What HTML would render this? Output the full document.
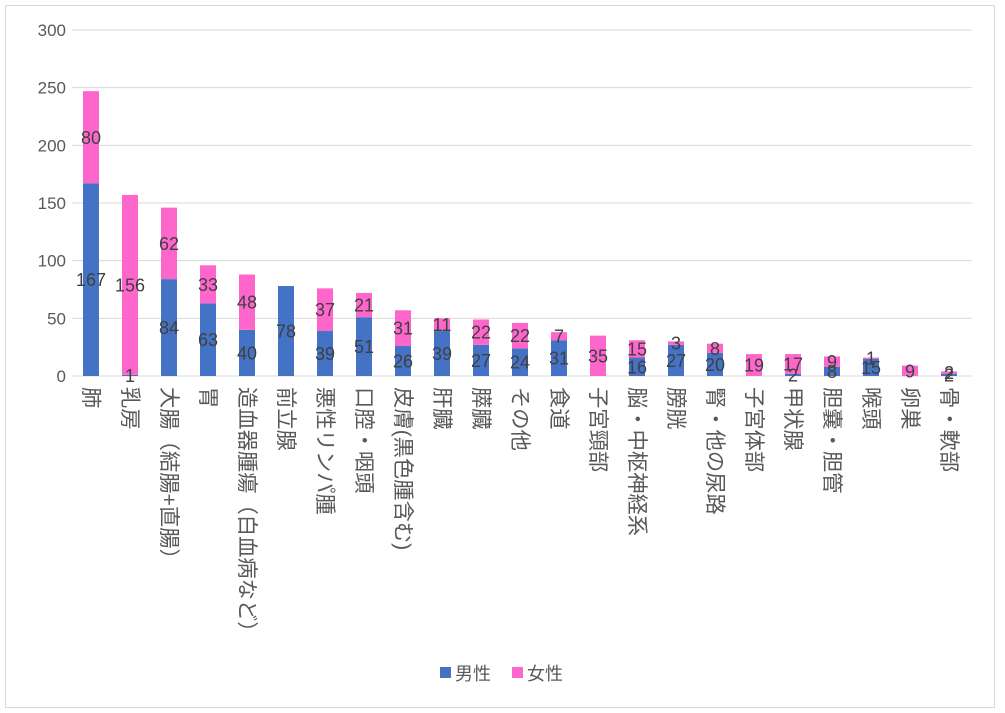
<!DOCTYPE html><html><head><meta charset="utf-8"><style>body{margin:0;background:#fff}svg{display:block;font-family:"Liberation Sans","Noto Sans CJK JP",sans-serif}</style></head><body>
<svg width="1005" height="713" xmlns="http://www.w3.org/2000/svg">
<rect x="5.5" y="5.5" width="989" height="702" fill="#fff" stroke="#d9d9d9"/>
<g id="g"></g>
</svg>
<script>
const d=[["肺",167,80],["乳房",1,156],["大腸（結腸+直腸）",84,62],["胃",63,33],["造血器腫瘍（白血病など）",40,48],["前立腺",78,0],["悪性リンパ腫",39,37],["口腔・咽頭",51,21],["皮膚(黒色腫含む)",26,31],["肝臓",39,11],["膵臓",27,22],["その他",24,22],["食道",31,7],["子宮頸部",0,35],["脳・中枢神経系",16,15],["膀胱",27,3],["腎・他の尿路",20,8],["子宮体部",0,19],["甲状腺",2,17],["胆嚢・胆管",8,9],["喉頭",15,1],["卵巣",0,9],["骨・軟部",2,2]];
const y0=376,k=346/300;let s='';
for(let v=0;v<=300;v+=50){const y=y0-v*k;s+=`<line x1="72" x2="972" y1="${y}" y2="${y}" stroke="#d9d9d9"/><text x="66" y="${y+6}" text-anchor="end" font-size="17" fill="#595959">${v}</text>`;}
d.forEach((r,i)=>{const cx=91+i*39,m=r[1],f=r[2];
const ym=y0-m*k,yf=ym-f*k;
if(m)s+=`<rect x="${cx-8}" y="${ym}" width="16" height="${m*k}" fill="#4472C4"/>`;
if(f)s+=`<rect x="${cx-8}" y="${yf}" width="16" height="${f*k}" fill="#FF66CC"/>`;
if(m)s+=`<text x="${cx}" y="${(y0+ym)/2+6.5}" text-anchor="middle" font-size="18" fill="#404040">${m}</text>`;
if(f)s+=`<text x="${cx}" y="${(ym+yf)/2+6.5}" text-anchor="middle" font-size="18" fill="#404040">${f}</text>`;
s+=`<text transform="translate(${cx},387) rotate(90)" font-size="21.3" dominant-baseline="central" fill="#595959">${r[0]}</text>`;});
s+=`<rect x="440" y="667" width="11" height="11" fill="#4472C4"/><text x="455" y="680" font-size="18" fill="#595959">男性</text><rect x="512" y="667" width="11" height="11" fill="#FF66CC"/><text x="527" y="680" font-size="18" fill="#595959">女性</text>`;
document.getElementById('g').innerHTML=s;
</script></body></html>
